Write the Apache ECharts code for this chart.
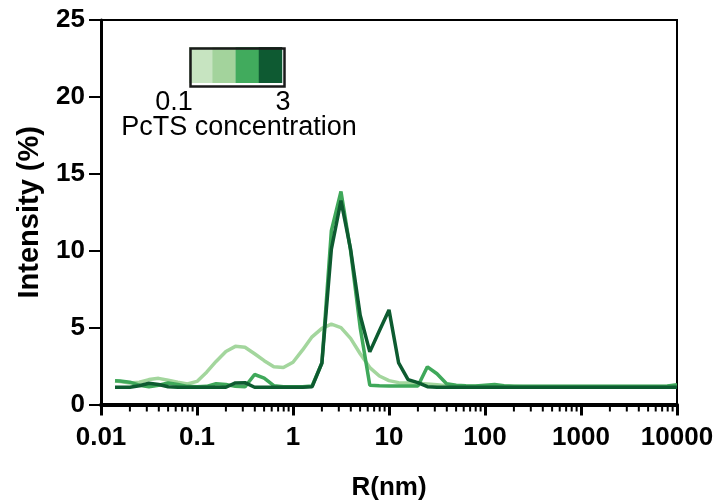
<!DOCTYPE html>
<html>
<head>
<meta charset="utf-8">
<script src="https://cdn.jsdelivr.net/npm/echarts@6/dist/echarts.min.js"></script>
<style>html,body{margin:0;padding:0;background:#fff}#c{width:720px;height:504px}</style>
</head>
<body>
<div id="c"></div>
<script>
// R (nm) sample positions
const rValues = [0.014, 0.0158, 0.02, 0.0251, 0.0316, 0.0398, 0.0501, 0.0631, 0.0794, 0.1,
  0.126, 0.158, 0.2, 0.251, 0.316, 0.398, 0.501, 0.631, 0.794, 1,
  1.26, 1.58, 2.0, 2.51, 3.16, 3.98, 5.01, 6.31, 7.94, 10,
  12.6, 15.8, 20, 25.1, 31.6, 39.8, 50.1, 63.1, 79.4, 100,
  126, 158, 200, 251, 316, 398, 501, 631, 794, 1000,
  1260, 1580, 2000, 2510, 3160, 3980, 5010, 6310, 7940, 10000];

// Intensity (%) for each PcTS concentration curve
const seriesLow = [1.53, 1.5, 1.4, 1.45, 1.62, 1.7, 1.58, 1.45, 1.33, 1.5,
  2.1, 2.8, 3.45, 3.78, 3.72, 3.3, 2.85, 2.45, 2.4, 2.75,
  3.55, 4.4, 4.95, 5.22, 5.0, 4.3, 3.3, 2.4, 1.85, 1.55,
  1.42, 1.4, 1.38, 1.33, 1.28, 1.22, 1.2, 1.18, 1.18, 1.18,
  1.18, 1.18, 1.18, 1.17, 1.17, 1.17, 1.17, 1.17, 1.17, 1.17,
  1.17, 1.17, 1.17, 1.17, 1.17, 1.17, 1.17, 1.17, 1.18, 1.2];
const seriesMid = [1.55, 1.53, 1.45, 1.25, 1.15, 1.25, 1.4, 1.3, 1.18, 1.15,
  1.18, 1.35, 1.3, 1.18, 1.15, 1.95, 1.72, 1.22, 1.15, 1.15,
  1.15, 1.2, 2.7, 11.3, 13.85, 10.0, 5.0, 1.25, 1.22, 1.2,
  1.2, 1.2, 1.2, 2.45, 2.0, 1.35, 1.25, 1.22, 1.2, 1.25,
  1.3, 1.22, 1.18, 1.18, 1.18, 1.18, 1.18, 1.18, 1.18, 1.18,
  1.18, 1.18, 1.18, 1.18, 1.18, 1.18, 1.18, 1.18, 1.2, 1.28];
const seriesHigh = [1.12, 1.12, 1.12, 1.22, 1.38, 1.3, 1.15, 1.12, 1.12, 1.12,
  1.12, 1.12, 1.12, 1.4, 1.42, 1.12, 1.12, 1.12, 1.12, 1.12,
  1.12, 1.15, 2.7, 10.1, 13.25, 10.1, 5.8, 3.42, 4.8, 6.15,
  2.7, 1.62, 1.42, 1.16, 1.12, 1.12, 1.12, 1.12, 1.12, 1.12,
  1.12, 1.12, 1.12, 1.12, 1.12, 1.12, 1.12, 1.12, 1.12, 1.12,
  1.12, 1.12, 1.12, 1.12, 1.12, 1.12, 1.12, 1.12, 1.12, 1.12];

const xTickLabels = ['0.01', '0.1', '1', '10', '100', '1000', '10000'];
const yTickLabels = ['0', '5', '10', '15', '20', '25'];
const legendColors = ['#c7e4c1', '#a3d39c', '#41ab5d', '#0e5a32'];
const legendLabels = ['0.1', '3'];
const legendTitle = 'PcTS concentration';
const lineColors = ['#a3d69d', '#3fa85a', '#0d5b30'];

// minor tick positions of the log axis (2..9 in each decade)
const minorTicks = [];
for (let d = -2; d < 4; d++) {
  for (let m = 2; m <= 9; m++) minorTicks.push([m * Math.pow(10, d), 0]);
}

const FONT = 'Liberation Sans, Arial, Helvetica, sans-serif';
const mk = (vals) => rValues.map((r, i) => [r, vals[i]]);

const chart = echarts.init(document.getElementById('c'), null, {renderer: 'canvas'});
chart.setOption({
  animation: false,
  backgroundColor: '#fff',
  grid: {left: 101, right: 43, top: 20, bottom: 99.5, containLabel: false, outerBoundsMode: 'none',
    show: true, borderColor: '#000', borderWidth: 2, backgroundColor: 'transparent'},
  xAxis: {
    type: 'log', logBase: 10, min: 0.01, max: 10000, interval: 1,
    name: 'R(nm)', nameLocation: 'middle', nameGap: 70,
    nameTextStyle: {fontFamily: FONT, fontSize: 26, fontWeight: 'bold', color: '#000'},
    axisLine: {show: true, onZero: false, lineStyle: {color: '#000', width: 4}},
    axisTick: {show: true, inside: false, length: 11, lineStyle: {color: '#000', width: 3}},
    axisLabel: {
      show: true, margin: 20, fontFamily: FONT, fontSize: 26, fontWeight: 'bold', color: '#000',
      formatter: (v) => xTickLabels[Math.round(Math.log10(v)) + 2]
    },
    splitLine: {show: false}
  },
  yAxis: {
    type: 'value', min: 0, max: 25, interval: 5,
    name: 'Intensity (%)', nameLocation: 'middle', nameGap: 57,
    nameTextStyle: {fontFamily: FONT, fontSize: 29, fontWeight: 'bold', color: '#000'},
    axisLine: {show: true, lineStyle: {color: '#000', width: 3}},
    axisTick: {show: true, inside: false, length: 12, lineStyle: {color: '#000', width: 2}},
    axisLabel: {
      show: true, margin: 16, fontFamily: FONT, fontSize: 26, fontWeight: 'bold', color: '#000',
      formatter: (v) => yTickLabels[Math.round(v / 5)]
    },
    splitLine: {show: false}
  },
  series: [
    {type: 'line', data: mk(seriesLow), showSymbol: false, lineStyle: {color: lineColors[0], width: 3.5}, z: 2},
    {type: 'line', data: mk(seriesMid), showSymbol: false, lineStyle: {color: lineColors[1], width: 3.5}, z: 3},
    {type: 'line', data: mk(seriesHigh), showSymbol: false, lineStyle: {color: lineColors[2], width: 3.5}, z: 4},
    {
      type: 'custom', clip: false, silent: true, z: 5, data: minorTicks,
      renderItem: (params, api) => {
        const p = api.coord([api.value(0), 0]);
        return {type: 'line', shape: {x1: p[0], y1: p[1] + 1, x2: p[0], y2: p[1] + 7}, style: {stroke: '#000', lineWidth: 2}};
      }
    }
  ],
  graphic: [
    ...legendColors.map((c, i) => ({
      type: 'rect', left: 189 + i * 23.25, top: 47, shape: {width: 23.5, height: 36}, style: {fill: c}, z: 10
    })),
    {type: 'rect', left: 188, top: 46, shape: {x: 0, y: 0, width: 94, height: 38}, style: {fill: 'none', stroke: '#1a1a1a', lineWidth: 2.5}, z: 11},
    {type: 'text', x: 174, y: 102.5, style: {text: legendLabels[0], font: '27px ' + FONT, fill: '#000', textAlign: 'center', textVerticalAlign: 'middle'}, z: 11},
    {type: 'text', x: 283, y: 102.5, style: {text: legendLabels[1], font: '27px ' + FONT, fill: '#000', textAlign: 'center', textVerticalAlign: 'middle'}, z: 11},
    {type: 'text', x: 239, y: 128, style: {text: legendTitle, font: '27px ' + FONT, fill: '#000', textAlign: 'center', textVerticalAlign: 'middle'}, z: 11}
  ]
});
</script>
</body>
</html>
